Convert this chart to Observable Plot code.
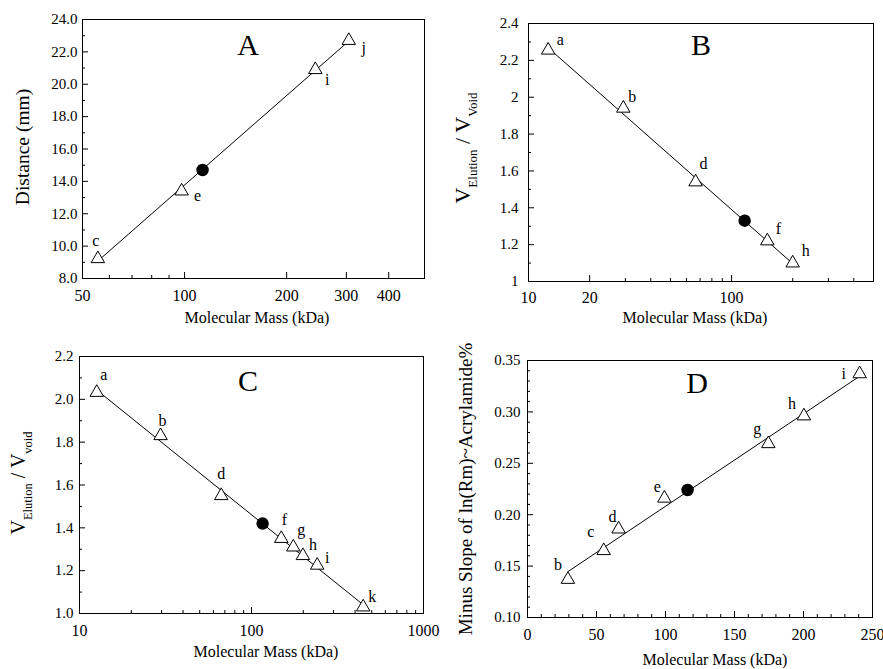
<!DOCTYPE html>
<html><head><meta charset="utf-8">
<script src="https://cdn.jsdelivr.net/npm/d3@7"></script>
<script src="https://cdn.jsdelivr.net/npm/@observablehq/plot@0.6"></script>
<style>
body{margin:0;background:#fff;width:883px;height:669px;position:relative;overflow:hidden;font-family:"Liberation Serif",serif}
.panel{position:absolute}
svg, svg text{font-family:"Liberation Serif","Times New Roman",serif !important}
</style></head><body>
<div id="pA" class="panel" style="left:0;top:0"></div>
<div id="pB" class="panel" style="left:440px;top:0"></div>
<div id="pC" class="panel" style="left:0;top:330px"></div>
<div id="pD" class="panel" style="left:440px;top:330px"></div>
<script>
// ---------- Panel A ----------
const namesA = ["c", "e", "i", "j"];
const massA = [55.5, 98, 243, 305];
const distA = [9.22, 13.4, 20.9, 22.7];
const unknownMassA = [113];
const unknownDistA = [14.7];
const xTicksA = [50, 100, 200, 300, 400];
const xMinorA = [60, 70, 80, 90];
const yTicksA = [8, 10, 12, 14, 16, 18, 20, 22, 24];
const yMinorA = [9, 11, 13, 15, 17, 19, 21, 23];

// ---------- Panel B ----------
const namesB = ["a", "b", "d", "f", "h"];
const massB = [12.5, 29.3, 66.5, 150, 200];
const ratioB = [2.255, 1.94, 1.54, 1.22, 1.10];
const unknownMassB = [116];
const unknownRatioB = [1.33];
const xTicksB = [10, 20, 100];
const xMinorB = [30, 40, 50, 60, 70, 80, 90, 200, 300, 400];
const yTicksB = [1, 1.2, 1.4, 1.6, 1.8, 2, 2.2, 2.4];
const yMinorB = [1.1, 1.3, 1.5, 1.7, 1.9, 2.1, 2.3];

// ---------- Panel C ----------
const namesC = ["a", "b", "d", "f", "g", "h", "i", "k"];
const massC = [12.6, 29.6, 66.7, 149, 175, 199, 241, 446];
const ratioC = [2.032, 1.83, 1.55, 1.35, 1.31, 1.27, 1.225, 1.03];
const unknownMassC = [116];
const unknownRatioC = [1.42];
const xTicksC = [10, 100, 1000];
const xMinorC = [20, 30, 40, 50, 60, 70, 80, 90, 200, 300, 400, 500, 600, 700, 800, 900];
const yTicksC = [1.0, 1.2, 1.4, 1.6, 1.8, 2.0, 2.2];
const yMinorC = [1.1, 1.3, 1.5, 1.7, 1.9, 2.1];

// ---------- Panel D ----------
const namesD = ["b", "c", "d", "e", "g", "h", "i"];
const massD = [29.3, 55.2, 66, 99.2, 174.5, 200.3, 240.7];
const slopeD = [0.137, 0.165, 0.186, 0.216, 0.269, 0.296, 0.337];
const unknownMassD = [116];
const unknownSlopeD = [0.224];
const xTicksD = [0, 50, 100, 150, 200, 250];
const xMinorD = [10, 20, 30, 40, 60, 70, 80, 90, 110, 120, 130, 140, 160, 170, 180, 190, 210, 220, 230, 240];
const yTicksD = [0.10, 0.15, 0.20, 0.25, 0.30, 0.35];
const yMinorD = [0.11, 0.12, 0.13, 0.14, 0.16, 0.17, 0.18, 0.19, 0.21, 0.22, 0.23, 0.24, 0.26, 0.27, 0.28, 0.29, 0.31, 0.32, 0.33, 0.34];

const SERIF = "Liberation Serif, Times New Roman, serif";

// least-squares fit of the standards (log x where the axis is log)
function fitLine(xs, ys, logX) {
  const tx = xs.map(v => logX ? Math.log10(v) : v);
  const mx = d3.mean(tx), my = d3.mean(ys);
  let sxy = 0, sxx = 0;
  tx.forEach((t, i) => { sxy += (t - mx) * (ys[i] - my); sxx += (t - mx) ** 2; });
  const b = sxy / sxx, a = my - b * mx;
  return d3.extent(xs).map(x => ({x, y: a + b * (logX ? Math.log10(x) : x)}));
}

function buildPanel(c) {
  const iw = c.width - c.ml - c.mr, ih = c.height - c.mt - c.mb;
  const pts = c.xs.map((x, i) => ({x, y: c.ys[i], name: c.names[i]}));
  const unk = c.ux.map((x, i) => ({x, y: c.uy[i]}));
  const logX = c.xType === "log";
  const marks = [
    Plot.frame({stroke: "black", strokeWidth: 1}),
    Plot.tickX(c.xMajor, {x: d => d, insetTop: ih - 6, stroke: "black", strokeWidth: 1}),
    Plot.tickX(c.xMinor, {x: d => d, insetTop: ih - 3, stroke: "black", strokeWidth: 1}),
    Plot.tickY(c.yMajor, {y: d => d, insetRight: iw - 6, stroke: "black", strokeWidth: 1}),
    Plot.tickY(c.yMinor, {y: d => d, insetRight: iw - 3, stroke: "black", strokeWidth: 1}),
    // tick labels
    Plot.text(c.xMajor, {x: d => d, text: c.xFormat, frameAnchor: "bottom", lineAnchor: "top", dy: c.xPad,
      fontSize: c.xTickFont, fontFamily: SERIF, fill: "black"}),
    Plot.text(c.yMajor, {y: d => d, text: c.yFormat, frameAnchor: "left", textAnchor: "end", dx: -c.yPad,
      fontSize: c.yTickFont, fontFamily: SERIF, fill: "black"}),
    Plot.line(fitLine(c.xs, c.ys, logX), {x: "x", y: "y", stroke: "black", strokeWidth: 1}),
    Plot.dot(pts, {x: "x", y: "y", symbol: "triangle", r: 5, fill: "white", stroke: "black", strokeWidth: 1}),
    Plot.dot(unk, {x: "x", y: "y", r: 5.5, fill: "black", stroke: "black"}),
    ...pts.map((p, i) => Plot.text([p], {x: "x", y: "y", text: "name", dx: c.offsets[i][0], dy: c.offsets[i][1],
      fontSize: 16, fontFamily: SERIF, fill: "black"}))
  ];
  const svg = Plot.plot({
    width: c.width, height: c.height,
    marginTop: c.mt, marginRight: c.mr, marginBottom: c.mb, marginLeft: c.ml,
    x: {type: c.xType, domain: c.xDomain, label: null, axis: null},
    y: {type: "linear", domain: c.yDomain, label: null, axis: null},
    style: {fontFamily: SERIF, fontSize: "15px", color: "black", background: "transparent", overflow: "visible"},
    marks
  });
  const s = d3.select(svg);
  s.append("text").attr("x", c.titleXY[0]).attr("y", c.titleXY[1]).attr("text-anchor", "middle")
    .attr("font-size", 30).attr("font-family", SERIF).text(c.title);
  s.append("text").attr("x", c.xTitleXY[0]).attr("y", c.xTitleXY[1]).attr("text-anchor", "middle")
    .attr("font-size", c.xTitleFont).attr("font-family", SERIF).text("Molecular Mass (kDa)");
  const yt = s.append("text").attr("transform", `translate(${c.yTitleXY[0]},${c.yTitleXY[1]}) rotate(-90)`)
    .attr("text-anchor", "middle").attr("font-family", SERIF).attr("font-size", c.yTitleFont);
  c.yTitle.forEach(part => {
    const ts = yt.append("tspan").text(part.t);
    if (part.sub) ts.attr("dy", part.sub).attr("font-size", part.size);
    if (part.back) ts.attr("dy", part.back);
  });
  document.getElementById(c.el).appendChild(svg);
}

buildPanel({
  el: "pA", width: 440, height: 330, mt: 19, mr: 16, mb: 52, ml: 82,
  xType: "log", xDomain: [50, 510], yDomain: [8, 24],
  xMajor: xTicksA, xMinor: xMinorA, yMajor: yTicksA, yMinor: yMinorA,
  xFormat: d => String(d), yFormat: d3.format(".1f"), xTickFont: 16, yTickFont: 15, xPad: 11, yPad: 5,
  xs: massA, ys: distA, names: namesA, ux: unknownMassA, uy: unknownDistA,
  offsets: [[-2, -18], [16, 5], [12, 10], [15, 7]],
  title: "A", titleXY: [248, 55], xTitleXY: [257, 323], xTitleFont: 16,
  yTitleXY: [29, 147], yTitleFont: 19.5, yTitle: [{t: "Distance (mm)"}]
});

buildPanel({
  el: "pB", width: 443, height: 330, mt: 23, mr: 10, mb: 49, ml: 88,
  xType: "log", xDomain: [10, 500], yDomain: [1, 2.4],
  xMajor: xTicksB, xMinor: xMinorB, yMajor: yTicksB, yMinor: yMinorB,
  xFormat: d => String(d), yFormat: d3.format("~g"), xTickFont: 16, yTickFont: 15, xPad: 10, yPad: 10,
  xs: massB, ys: ratioB, names: namesB, ux: unknownMassB, uy: unknownRatioB,
  offsets: [[12, -10], [9, -11], [8, -18], [11, -12], [13, -12]],
  title: "B", titleXY: [261, 55], xTitleXY: [255, 323], xTitleFont: 16,
  yTitleXY: [30, 148], yTitleFont: 22,
  yTitle: [{t: "V"}, {t: "Elution", sub: 7, size: 13}, {t: " / V", back: -7}, {t: "Void", sub: 7, size: 13}]
});

buildPanel({
  el: "pC", width: 440, height: 339, mt: 26, mr: 17, mb: 56, ml: 79,
  xType: "log", xDomain: [10, 1000], yDomain: [1.0, 2.2],
  xMajor: xTicksC, xMinor: xMinorC, yMajor: yTicksC, yMinor: yMinorC,
  xFormat: d => String(d), yFormat: d3.format(".1f"), xTickFont: 16, yTickFont: 15, xPad: 11, yPad: 6,
  xs: massC, ys: ratioC, names: namesC, ux: unknownMassC, uy: unknownRatioC,
  offsets: [[7, -18], [2, -15], [0, -22], [3, -19], [8, -17], [10, -11], [10, -7], [9, -10]],
  title: "C", titleXY: [248, 61], xTitleXY: [266, 327], xTitleFont: 16,
  yTitleXY: [25, 153], yTitleFont: 20,
  yTitle: [{t: "V"}, {t: "Elution", sub: 7, size: 12.5}, {t: " / V", back: -7}, {t: "void", sub: 7, size: 12.5}]
});

buildPanel({
  el: "pD", width: 443, height: 339, mt: 30, mr: 11, mb: 52, ml: 87,
  xType: "linear", xDomain: [0, 250], yDomain: [0.10, 0.35],
  xMajor: xTicksD, xMinor: xMinorD, yMajor: yTicksD, yMinor: yMinorD,
  xFormat: d3.format("d"), yFormat: d3.format(".2f"), xTickFont: 16, yTickFont: 15, xPad: 11, yPad: 7,
  xs: massD, ys: slopeD, names: namesD, ux: unknownMassD, uy: unknownSlopeD,
  offsets: [[-10, -15], [-13, -19], [-6, -12], [-7, -11], [-11, -15], [-12, -12], [-16, 0]],
  title: "D", titleXY: [257, 63], xTitleXY: [275, 335], xTitleFont: 16,
  yTitleXY: [32, 159], yTitleFont: 19, yTitle: [{t: "Minus Slope of ln(Rm)~Acrylamide%"}]
});
</script>
</body></html>
